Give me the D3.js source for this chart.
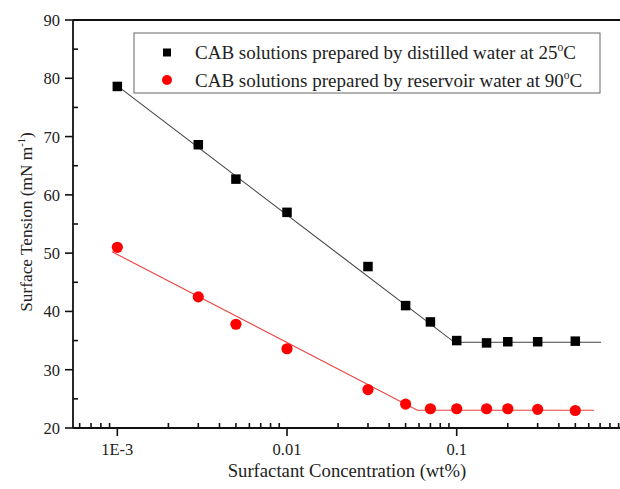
<!DOCTYPE html>
<html><head><meta charset="utf-8">
<script src="https://cdn.jsdelivr.net/npm/d3@7/dist/d3.min.js"></script>
<style>body{margin:0;background:#fff;}</style>
</head><body><svg id="c" width="620" height="489" font-family="'Liberation Serif', Tinos, 'Times New Roman', 'DejaVu Serif', serif"></svg>
<script>
const concentrations = [0.001, 0.003, 0.005, 0.01, 0.03, 0.05, 0.07, 0.1, 0.15, 0.2, 0.3, 0.5];
const distilled25 = [78.6, 68.6, 62.7, 57.0, 47.7, 41.0, 38.2, 35.0, 34.6, 34.8, 34.8, 34.9];
const reservoir90 = [51.0, 42.5, 37.8, 33.6, 26.6, 24.1, 23.3, 23.3, 23.3, 23.3, 23.2, 23.0];
const fitDistilledX = [0.001, 0.097, 0.71];
const fitDistilledY = [78.7, 34.7, 34.7];
const fitReservoirX = [0.00093, 0.0586, 0.645];
const fitReservoirY = [50.25, 23.05, 23.05];
const yTicks = [20, 30, 40, 50, 60, 70, 80, 90];
const xMajorTicks = [0.001, 0.01, 0.1];
const xMajorLabels = ["1E-3", "0.01", "0.1"];
const seriesNames = ["CAB solutions prepared by distilled water at 25", "CAB solutions prepared by reservoir water at 90"];

const svg = d3.select("#c");
const L = 73, R = 620, T = 20, B = 428;
const x = d3.scaleLog().domain([5.48e-4, 0.917]).range([L, R]);
const y = d3.scaleLinear().domain([20, 90]).range([B, T]);
const ink = "#111";

// axes lines
svg.append("line").attr("x1", L).attr("x2", R).attr("y1", T).attr("y2", T).attr("stroke", ink).attr("stroke-width", 1.8);
svg.append("line").attr("x1", L).attr("x2", R).attr("y1", B).attr("y2", B).attr("stroke", ink).attr("stroke-width", 1.8);
svg.append("line").attr("x1", L).attr("x2", L).attr("y1", T).attr("y2", B).attr("stroke", ink).attr("stroke-width", 1.8);

// y ticks
const yMinor = d3.range(25, 90, 10);
svg.selectAll(".ymaj").data(yTicks).join("line").attr("x1", L - 8).attr("x2", L).attr("y1", d => y(d)).attr("y2", d => y(d)).attr("stroke", ink).attr("stroke-width", 1.6);
svg.selectAll(".ymin").data(yMinor).join("line").attr("x1", L).attr("x2", L + 5).attr("y1", d => y(d)).attr("y2", d => y(d)).attr("stroke", ink).attr("stroke-width", 1.6);
svg.selectAll(".ylab").data(yTicks).join("text").attr("x", L - 13).attr("y", d => y(d) + 6).attr("text-anchor", "end").attr("font-size", 16.5).attr("fill", "#222").text(d => d);

// x ticks
const xMinor = [];
[-4, -3, -2, -1].forEach(e => { for (let k = 2; k <= 9; k++) { const v = k * Math.pow(10, e); if (v >= 5.48e-4 && v <= 0.917) xMinor.push(v); } });
svg.selectAll(".xmin").data(xMinor).join("line").attr("x1", d => x(d)).attr("x2", d => x(d)).attr("y1", B).attr("y2", B - 5).attr("stroke", ink).attr("stroke-width", 1.6);
svg.selectAll(".xmaj").data(xMajorTicks).join("line").attr("x1", d => x(d)).attr("x2", d => x(d)).attr("y1", B).attr("y2", B + 8).attr("stroke", ink).attr("stroke-width", 1.6);
svg.selectAll(".xlab").data(xMajorTicks).join("text").attr("x", d => x(d)).attr("y", 455).attr("text-anchor", "middle").attr("font-size", 16.5).attr("fill", "#222").text((d, i) => xMajorLabels[i]);

// axis titles
svg.append("text").attr("x", 347).attr("y", 477).attr("text-anchor", "middle").attr("font-size", 18.7).attr("fill", "#222").text("Surfactant Concentration (wt%)");
const yt = svg.append("text").attr("transform", "translate(32,222) rotate(-90)").attr("text-anchor", "middle").attr("font-size", 17.3).attr("fill", "#222");
yt.append("tspan").text("Surface Tension (mN m");
yt.append("tspan").attr("dy", -7).attr("font-size", 10.5).text("-1");
yt.append("tspan").attr("dy", 7).text(")");

// fit lines
const line = d3.line().x(d => x(d[0])).y(d => y(d[1]));
svg.append("path").attr("d", line(d3.zip(fitDistilledX, fitDistilledY))).attr("fill", "none").attr("stroke", "#444").attr("stroke-width", 1.1);
svg.append("path").attr("d", line(d3.zip(fitReservoirX, fitReservoirY))).attr("fill", "none").attr("stroke", "#e8403f").attr("stroke-width", 1.1);

// markers
const s = 9.5;
svg.selectAll(".sq").data(d3.zip(concentrations, distilled25)).join("rect")
  .attr("x", d => x(d[0]) - s / 2).attr("y", d => y(d[1]) - s / 2).attr("width", s).attr("height", s).attr("fill", "#000");
svg.selectAll(".ci").data(d3.zip(concentrations, reservoir90)).join("circle")
  .attr("cx", d => x(d[0])).attr("cy", d => y(d[1])).attr("r", 5.6).attr("fill", "#ff0000");

// legend
svg.append("rect").attr("x", 134).attr("y", 33).attr("width", 466).attr("height", 60).attr("fill", "#fff").attr("stroke", "#666").attr("stroke-width", 1);
svg.append("rect").attr("x", 163).attr("y", 48.5).attr("width", 8).attr("height", 8).attr("fill", "#000");
svg.append("circle").attr("cx", 167).attr("cy", 80).attr("r", 5).attr("fill", "#ff0000");
seriesNames.forEach((name, i) => {
  const t = svg.append("text").attr("x", 195).attr("y", 59 + i * 27.5).attr("font-size", 19).attr("fill", "#222");
  t.append("tspan").text(name);
  t.append("tspan").attr("dy", -8).attr("font-size", 11.5).text("o");
  t.append("tspan").attr("dy", 8).text("C");
});
</script></body></html>
